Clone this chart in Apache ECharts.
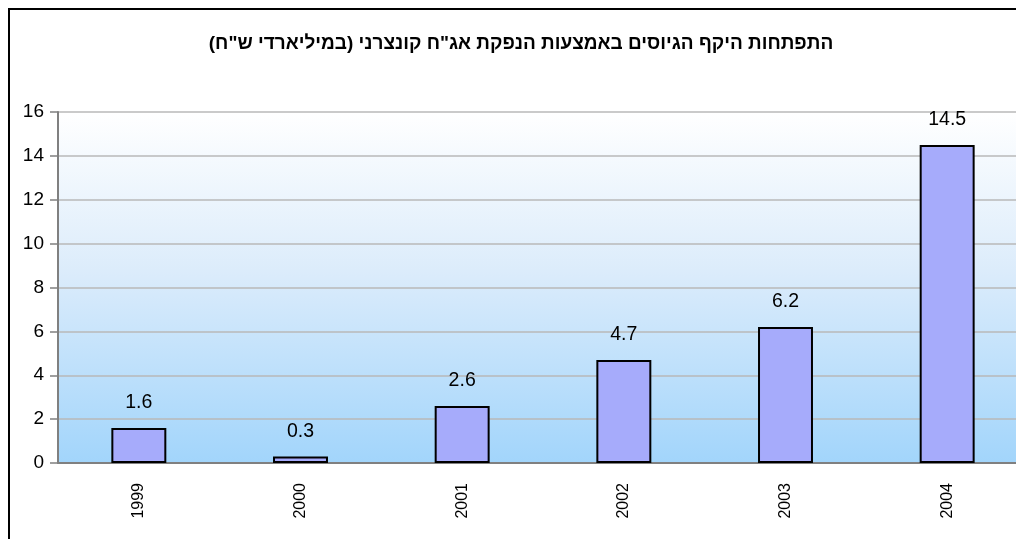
<!DOCTYPE html>
<html>
<head>
<meta charset="utf-8">
<script src="https://cdn.jsdelivr.net/npm/echarts@6/dist/echarts.min.js"></script>
<style>
	html, body { margin: 0; padding: 0; background: #fff; overflow: hidden; width: 1016px; height: 539px; }
	#chart { position: absolute; left: 0; top: 0; width: 1100px; height: 539px; }
</style>
</head>
<body>
<div id="chart"></div>
<script>
// נתונים
var years = ['1999', '2000', '2001', '2002', '2003', '2004'];
var amounts = [1.6, 0.3, 2.6, 4.7, 6.2, 14.5];
var titleText = 'התפתחות היקף הגיוסים באמצעות הנפקת אג"ח קונצרני (במיליארדי ש"ח)';

var chart = echarts.init(document.getElementById('chart'));
chart.setOption({
	animation: false,
	textStyle: { fontFamily: 'Liberation Sans, Arial, sans-serif' },
	graphic: [
		// מסגרת
		{ type: 'polyline', silent: true, shape: { points: [[9, 600], [9, 9], [1100, 9]] },
		  style: { stroke: '#000', lineWidth: 2, fill: null } }
	],
	title: {
		text: titleText,
		left: 516,
		textAlign: 'center',
		top: 29,
		textStyle: { fontSize: 19, fontWeight: 'bold', color: '#000' }
	},
	grid: {
		left: 58, top: 112, width: 970, height: 351,
		show: true,
		borderWidth: 0,
		backgroundColor: new echarts.graphic.LinearGradient(0, 0, 0, 1, [
			{ offset: 0, color: '#ffffff' },
			{ offset: 0.45, color: '#dcecfb' },
			{ offset: 1, color: '#a2d5fb' }
		])
	},
	xAxis: {
		type: 'category',
		data: years,
		axisLine: { lineStyle: { color: '#808080', width: 2 } },
		axisTick: { show: false },
		axisLabel: { rotate: 90, margin: 20, fontSize: 16, color: '#000' }
	},
	yAxis: {
		type: 'value',
		min: 0, max: 16, interval: 2,
		axisLine: { show: true, lineStyle: { color: '#808080', width: 2 } },
		axisTick: { show: true, length: 8, lineStyle: { color: '#808080', width: 1.5 } },
		axisLabel: { fontSize: 19, color: '#000', margin: 14 },
		splitLine: { lineStyle: { color: '#b8b8b8', width: 1.5 } }
	},
	series: [{
		type: 'bar',
		data: amounts,
		barWidth: '34%',
		itemStyle: { color: '#a6abfb', borderColor: '#000', borderWidth: 2 },
		label: { show: true, position: 'top', distance: 15, fontSize: 19.5, color: '#000' }
	}]
});
</script>
</body>
</html>
